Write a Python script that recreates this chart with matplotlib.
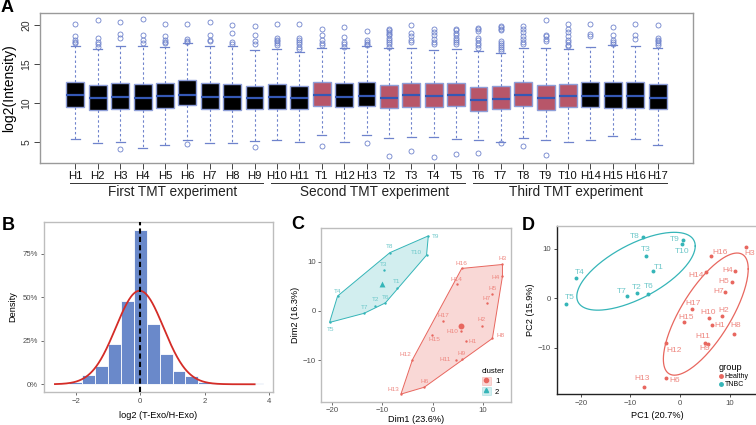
import numpy as np
import matplotlib
matplotlib.use("Agg")
import matplotlib.pyplot as plt
from matplotlib.patches import Polygon, Patch
from matplotlib.lines import Line2D
import matplotlib.transforms as mtransforms

plt.rcParams['font.family'] = ['Liberation Sans', 'DejaVu Sans']

# ---------------- Panel A data ----------------
samples = ["H1", "H2", "H3", "H4", "H5", "H6", "H7", "H8", "H9",
           "H10", "H11", "T1", "H12", "H13", "T2", "T3", "T4", "T5",
           "T6", "T7", "T8", "T9", "T10", "H14", "H15", "H16", "H17"]
q1_vals = [9.47, 9.13, 9.26, 9.09, 9.30, 9.68, 9.22, 9.13, 9.17,
           9.26, 9.22, 9.56, 9.47, 9.60, 9.34, 9.51, 9.51, 9.56,
           9.00, 9.22, 9.60, 9.13, 9.43, 9.43, 9.30, 9.30, 9.22]
med_vals = [10.96, 10.62, 10.79, 10.58, 10.88, 11.00, 10.70, 10.70, 10.58,
            10.75, 10.58, 10.96, 10.75, 10.92, 10.67, 10.96, 10.88, 11.05,
            10.41, 10.50, 10.96, 10.58, 10.84, 10.88, 10.88, 10.84, 10.58]
q3_vals = [12.63, 12.28, 12.54, 12.37, 12.50, 12.88, 12.50, 12.37, 12.20,
           12.37, 12.20, 12.67, 12.54, 12.71, 12.28, 12.54, 12.54, 12.54,
           12.03, 12.11, 12.63, 12.24, 12.41, 12.63, 12.63, 12.71, 12.37]
whislo_vals = [5.38, 4.83, 5.00, 4.27, 4.57, 5.20, 4.87, 4.83, 5.12,
               5.25, 5.00, 5.90, 5.00, 5.90, 5.55, 5.64, 5.64, 5.42,
               5.30, 4.95, 5.55, 5.20, 5.00, 5.30, 5.72, 5.42, 4.61]
whishi_vals = [17.23, 16.90, 17.27, 17.27, 17.10, 17.65, 17.27, 17.30, 16.80,
               16.90, 16.46, 17.00, 17.00, 17.23, 17.00, 17.00, 16.80, 16.90,
               16.59, 16.38, 17.00, 17.00, 16.90, 17.14, 17.36, 17.30, 17.00]
outliers = [
    [20.1, 18.5, 18.1, 17.8, 17.65],
    [20.6, 18.3, 17.8, 17.5, 17.2],
    [20.3, 18.85, 18.25, 4.06],
    [20.77, 18.64, 18.08, 17.65],
    [20.04, 18.5, 18.0, 17.8, 17.6],
    [20.13, 18.17, 17.95, 17.8, 4.78],
    [20.3, 18.7, 18.1, 17.9],
    [19.96, 18.98, 17.74, 17.53],
    [19.9, 18.7, 17.87, 17.57, 4.31],
    [20.1, 18.3, 18.1, 17.87, 17.65, 17.36],
    [20.1, 18.3, 18.1, 17.8, 17.5, 17.2, 16.9],
    [19.5, 18.64, 18.0, 17.65, 17.4, 4.48],
    [19.7, 18.38, 17.74, 17.5, 17.2],
    [19.15, 18.0, 17.8, 17.55, 17.36, 4.83],
    [19.5, 19.3, 19.1, 18.85, 18.64, 18.3, 18.1, 17.8, 17.5, 17.2, 3.16],
    [20.0, 19.0, 18.6, 18.1, 17.8, 3.8],
    [19.5, 19.06, 18.64, 18.17, 17.8, 17.5, 3.04],
    [19.5, 19.3, 18.96, 18.64, 18.3, 18.1, 17.8, 17.5, 3.5],
    [19.6, 19.4, 19.2, 18.3, 18.0, 17.65, 17.45, 17.0, 3.6],
    [19.9, 19.7, 19.5, 19.3, 17.9, 17.65, 17.36, 17.15, 16.94, 16.7, 4.87],
    [19.9, 19.5, 19.06, 18.5, 18.17, 17.8, 17.5, 4.44],
    [20.55, 18.72, 18.5, 18.17, 17.95, 3.38],
    [20.1, 19.5, 19.06, 18.5, 18.1, 17.8, 17.45, 17.23],
    [20.1, 18.85, 18.5],
    [19.66, 18.64, 18.1, 17.8, 17.57],
    [20.1, 18.72, 18.2],
    [20.0, 18.3, 18.1, 17.87, 17.65, 17.44],
]
groups = ["First TMT experiment", "Second TMT experiment", "Third TMT experiment"]
group_start = [1, 10, 19]
group_end = [9, 18, 27]

# ---------------- Panel B data ----------------
bin_centers = [-2.4, -2.0, -1.6, -1.2, -0.8, -0.4, 0.0, 0.4, 0.8, 1.2, 1.6,
               2.0, 2.4, 2.8, 3.2, 3.6]
density_pct = [0.3, 1.5, 5.6, 10.4, 22.9, 48.0, 88.8, 34.6, 17.5, 7.9, 5.0,
               1.2, 0.5, 0.3, 0.3, 1.0]
fit_mean = -0.02
fit_sd = 0.741
fit_range = (-2.65, 3.55)

# ---------------- Panel C data ----------------
c_labels = ["T1", "T2", "T3", "T4", "T5", "T6", "T7", "T8", "T9", "T10",
            "H1", "H2", "H3", "H4", "H5", "H6", "H7", "H8", "H9", "H10",
            "H11", "H12", "H13", "H14", "H15", "H16", "H17"]
c_dim1 = [-7.1, -11.4, -9.7, -18.9, -20.5, -9.4, -13.6, -8.5, -0.85, -1.2,
          6.6, 9.8, 13.9, 13.9, 11.9, -1.65, 10.75, 11.9, 5.8, 5.65,
          4.65, -4.0, -6.3, 4.8, -0.2, 5.8, 2.1]
c_dim2 = [4.7, 1.0, 8.25, 3.0, -2.36, 1.6, -0.5, 11.8, 15.2, 11.3,
          -6.1, -3.0, 9.4, 7.0, 3.45, -15.5, 1.5, -5.6, -9.8, -4.05,
          -10.06, -9.9, -16.9, 5.35, -4.9, 8.6, -2.1]
c_cluster = [2] * 10 + [1] * 17

# ---------------- Panel D data ----------------
d_labels = c_labels
d_pc1 = [-5.5, -8.7, -6.9, -21.0, -23.0, -6.4, -10.7, -7.5, 0.6, 0.3,
         6.5, 8.4, 13.3, 11.1, 10.5, -2.8, 9.1, 10.9, 5.7, 5.8,
         5.0, -2.8, -7.2, 5.25, 0.75, 6.2, 2.4]
d_pc2 = [5.4, 1.07, 8.6, 4.0, -1.07, 0.94, 0.4, 12.3, 11.7, 11.0,
         -5.4, -3.6, 10.3, 5.4, 3.3, -16.1, 1.27, -7.2, -9.25, -3.9,
         -9.0, -9.1, -17.8, 5.2, -4.8, 8.45, -2.2]
d_group = ["TNBC"] * 10 + ["Healthy"] * 17

# ---------------- styling ----------------
W, H = 756, 425
fig = plt.figure(figsize=(W / 100, H / 100), dpi=100)


def px_axes(l, t, r, b):
    return fig.add_axes([l / W, 1 - b / H, (r - l) / W, (b - t) / H])


RED = "#E8675F"
TEAL = "#35B5B8"
RED_TXT = "#EE8780"
TEAL_TXT = "#6CC7C9"

# ================= Panel A =================
axA = px_axes(40, 13, 693, 163)
positions = np.arange(1, len(samples) + 1)
stats = []
for i, s in enumerate(samples):
    stats.append(dict(med=med_vals[i], q1=q1_vals[i], q3=q3_vals[i],
                      whislo=whislo_vals[i], whishi=whishi_vals[i],
                      fliers=outliers[i], label=s))
blue_line = "#6F83CC"
bp = axA.bxp(stats, positions=positions, widths=0.8, capwidths=0.4,
             patch_artist=True, showfliers=True,
             boxprops=dict(edgecolor="#8E9ED8", linewidth=1.0),
             medianprops=dict(color="#3558B5", linewidth=1.6),
             whiskerprops=dict(color=blue_line, linewidth=0.8, linestyle=(0, (2.2, 2.2))),
             capprops=dict(color=blue_line, linewidth=0.9),
             flierprops=dict(marker="o", markerfacecolor="none",
                             markeredgecolor=blue_line, markersize=3.6,
                             markeredgewidth=0.6))
for patch, s in zip(bp["boxes"], samples):
    patch.set_facecolor("#000000" if s.startswith("H") else "#B85669")
axA.set_xlim(-0.58, 28.58)
axA.set_ylim(2.3, 21.5)
axA.set_yticks([5, 10, 15, 20])
axA.set_yticklabels(["5", "10", "15", "20"], rotation=90, va="center")
axA.set_xticks(positions)
axA.set_xticklabels(samples)
axA.tick_params(axis="x", length=4, width=0.7, color="#444444", labelsize=8.2,
                pad=2, labelcolor="#111111")
axA.tick_params(axis="y", length=4, width=0.7, color="#444444", labelsize=7.5,
                pad=2, labelcolor="#333333")
for sp in axA.spines.values():
    sp.set_color("#9A9A9A")
    sp.set_linewidth(1.0)
axA.set_ylabel("log2(Intensity)", fontsize=10, labelpad=4)
trA = mtransforms.blended_transform_factory(axA.transData, axA.transAxes)
for g, s0, s1 in zip(groups, group_start, group_end):
    axA.plot([s0 - 0.25, s1 + 0.4], [-0.133, -0.133], transform=trA,
             color="#333333", lw=0.7, clip_on=False)
    axA.text((s0 + s1) / 2 + 0.35, -0.196, g, transform=trA, ha="center",
             va="center", fontsize=9.8, color="#222222")
fig.text(1 / W, 1 - 8 / H, "A", fontsize=13, fontweight="bold", va="center")

# ================= Panel B =================
axB = px_axes(44, 222, 273, 392)
axB.bar(bin_centers, density_pct, width=0.4, color="#6A89CA",
        edgecolor="white", linewidth=0.6, zorder=2)
xs = np.linspace(fit_range[0], fit_range[1], 300)
ys = 100 * np.exp(-0.5 * ((xs - fit_mean) / fit_sd) ** 2) / (fit_sd * np.sqrt(2 * np.pi))
axB.plot(xs, ys, color="#D42C27", lw=1.3, zorder=3)
axB.axvline(0, color="black", lw=1.5, linestyle=(0, (2.5, 1.5)), zorder=4)
axB.set_xlim(-2.99, 4.12)
axB.set_ylim(-4.45, 93.4)
axB.set_xticks([-2, 0, 2, 4])
axB.set_xticklabels(["\u22122", "0", "2", "4"])
axB.set_yticks([0, 25, 50, 75])
axB.set_yticklabels(["0%", "25%", "50%", "75%"])
axB.tick_params(length=2.5, width=0.6, color="#555555", labelsize=5.6,
                labelcolor="#4D4D4D", pad=2)
for sp in axB.spines.values():
    sp.set_color("#BDBDBD")
    sp.set_linewidth(1.0)
axB.set_xlabel("log2 (T-Exo/H-Exo)", fontsize=6.6, labelpad=4)
axB.set_ylabel("Density", fontsize=6.6, labelpad=4)
fig.text(2 / W, 1 - 225 / H, "B", fontsize=13, fontweight="bold", va="center")


# ================= Panel C =================
def convex_hull(pts):
    pts = sorted(set(pts))
    if len(pts) <= 2:
        return pts

    def cross(o, a, b):
        return (a[0] - o[0]) * (b[1] - o[1]) - (a[1] - o[1]) * (b[0] - o[0])
    lower, upper = [], []
    for p in pts:
        while len(lower) >= 2 and cross(lower[-2], lower[-1], p) <= 0:
            lower.pop()
        lower.append(p)
    for p in reversed(pts):
        while len(upper) >= 2 and cross(upper[-2], upper[-1], p) <= 0:
            upper.pop()
        upper.append(p)
    return lower[:-1] + upper[:-1]


axC = px_axes(321, 228, 511, 402)
c_offsets = {  # label offsets in pixels (dx, dy_down)
    "T1": (0, -6), "T2": (0, -6), "T3": (0, -6), "T4": (0, -5), "T5": (1, 7),
    "T6": (0, -5.5), "T7": (0, -5.5), "T8": (0, -5.7), "T9": (7, 0.5), "T10": (-10, -3),
    "H1": (7, 0.7), "H2": (0, -5.7), "H3": (0, -5.7), "H4": (-7, 0.7), "H5": (0, -5),
    "H6": (0, -5.3), "H7": (0, -5), "H8": (7.7, -3), "H9": (0, -5.7), "H10": (-8.7, 1),
    "H11": (-10.3, -1), "H12": (-7, -4.7), "H13": (-8, -4.7), "H14": (0, -5.3),
    "H15": (3.3, 5), "H16": (0, -5.3), "H17": (0, -5.3),
}
for cl, col, txtcol, fa, mk in [(1, RED, RED_TXT, 0.25, "o"), (2, TEAL, TEAL_TXT, 0.22, "^")]:
    idx = [i for i, c in enumerate(c_cluster) if c == cl]
    xs_c = [c_dim1[i] for i in idx]
    ys_c = [c_dim2[i] for i in idx]
    hull = convex_hull(list(zip(xs_c, ys_c)))
    axC.add_patch(Polygon(hull, closed=True, facecolor=col, alpha=fa, edgecolor="none", zorder=1))
    axC.add_patch(Polygon(hull, closed=True, facecolor="none", edgecolor=col, lw=0.7, zorder=2))
    axC.scatter(xs_c, ys_c, s=3, color=col, zorder=3, linewidths=0)
    axC.scatter([np.mean(xs_c)], [np.mean(ys_c)], s=18, marker=mk, color=col, zorder=3,
                linewidths=0)
    for i in idx:
        dx, dy = c_offsets[c_labels[i]]
        axC.annotate(c_labels[i], (c_dim1[i], c_dim2[i]), xytext=(dx * 0.72, -dy * 0.72),
                     textcoords="offset points", ha="center", va="center",
                     fontsize=4.6, color=txtcol, zorder=4)
axC.set_xlim(-22.2, 15.6)
axC.set_ylim(-18.5, 16.8)
axC.set_xticks([-20, -10, 0, 10])
axC.set_yticks([-10, 0, 10])
axC.tick_params(length=2.5, width=0.6, color="#555555", labelsize=5.6,
                labelcolor="#4D4D4D", pad=1.2)
for sp in axC.spines.values():
    sp.set_color("#BDBDBD")
    sp.set_linewidth(1.0)
axC.set_xlabel("Dim1 (23.6%)", fontsize=6.6, labelpad=0.5)
axC.set_ylabel("Dim2 (16.3%)", fontsize=6.6, labelpad=2)
hC = [(Patch(facecolor=RED, alpha=0.25, edgecolor=RED, lw=0.7),
       Line2D([], [], marker="o", color=RED, ls="none", ms=3)),
      (Patch(facecolor=TEAL, alpha=0.22, edgecolor=TEAL, lw=0.7),
       Line2D([], [], marker="^", color=TEAL, ls="none", ms=3))]
legC = axC.legend(hC, ["1", "2"], title="cluster", loc="lower right",
                  bbox_to_anchor=(1.0, 0.0), frameon=False, fontsize=5.6,
                  title_fontsize=5.6, handlelength=1.2, handleheight=1.2,
                  handletextpad=0.5, borderpad=0.3, labelspacing=0.25)
legC._legend_box.align = "left"
fig.text(291 / W, 1 - 224 / H, "C", fontsize=13, fontweight="bold", va="center")

# ================= Panel D =================
ell_level = 0.69  # normal-theory ellipse, chi-square radius
axD = px_axes(557, 226, 757, 394)
d_offsets = {
    "T8": (-8.3, -1), "T9": (-8.3, -1), "T10": (0.5, 8), "T3": (0, -5.7), "T1": (6.3, -4),
    "T4": (4.3, -6.3), "T7": (-5.7, -5), "T2": (0, -5.7), "T6": (0.3, -7), "T5": (3.7, -5.7),
    "H3": (4, 6), "H16": (9.3, -4), "H4": (-7.3, -0.7), "H14": (-10, 3), "H5": (-8, 0),
    "H7": (-6.7, 0), "H17": (0.7, -5.3), "H2": (2, -5.7), "H10": (-0.7, -5.3), "H15": (2.3, -4.7),
    "H1": (7, 0.7), "H8": (1.3, -8), "H11": (-2, -6.7), "H9": (-4, 4.3), "H12": (8, 7.3),
    "H6": (8.7, 2), "H13": (-2.3, -8.3),
}
t = np.linspace(0, 2 * np.pi, 200)
radius = np.sqrt(-2 * np.log(1 - ell_level))
for grp, col, txtcol in [("Healthy", RED, RED_TXT), ("TNBC", TEAL, TEAL_TXT)]:
    idx = [i for i, g in enumerate(d_group) if g == grp]
    xs_d = np.array([d_pc1[i] for i in idx])
    ys_d = np.array([d_pc2[i] for i in idx])
    cov = np.cov(np.vstack([xs_d, ys_d]))
    chol = np.linalg.cholesky(cov).T
    unit = np.column_stack([np.cos(t), np.sin(t)])
    ell = np.array([xs_d.mean(), ys_d.mean()]) + radius * unit @ chol
    axD.plot(ell[:, 0], ell[:, 1], color=col, lw=0.9, zorder=2)
    axD.scatter(xs_d, ys_d, s=8, color=col, zorder=3, linewidths=0)
    for i in idx:
        dx, dy = d_offsets[d_labels[i]]
        axD.annotate(d_labels[i], (d_pc1[i], d_pc2[i]), xytext=(dx * 0.72, -dy * 0.72),
                     textcoords="offset points", ha="center", va="center",
                     fontsize=6.0, color=txtcol, zorder=4)
axD.set_xlim(-24.8, 15.5)
axD.set_ylim(-19.3, 14.55)
axD.set_xticks([-20, -10, 0, 10])
axD.set_yticks([-10, 0, 10])
axD.tick_params(length=2.5, width=0.6, color="#333333", labelsize=5.6,
                labelcolor="#4D4D4D", pad=2)
for k, sp in axD.spines.items():
    if k in ("left", "bottom"):
        sp.set_color("#222222")
    else:
        sp.set_color("#BDBDBD")
    sp.set_linewidth(1.0)
axD.set_xlabel("PC1 (20.7%)", fontsize=6.6, labelpad=3)
axD.set_ylabel("PC2 (15.9%)", fontsize=6.6, labelpad=2)
hD = [Line2D([], [], marker="o", color=RED, ls="none", ms=2.5),
      Line2D([], [], marker="o", color=TEAL, ls="none", ms=2.5)]
legD = axD.legend(hD, ["Healthy", "TNBC"], title="group", loc="lower right",
                  bbox_to_anchor=(0.985, 0.0), frameon=False, fontsize=5.0,
                  title_fontsize=6.6, handlelength=0.6, handletextpad=0.2,
                  borderpad=0.3, labelspacing=0.2)
legD._legend_box.align = "left"
fig.text(522 / W, 1 - 225 / H, "D", fontsize=13, fontweight="bold", va="center")

fig.savefig("out.png", dpi=100, facecolor="white")
